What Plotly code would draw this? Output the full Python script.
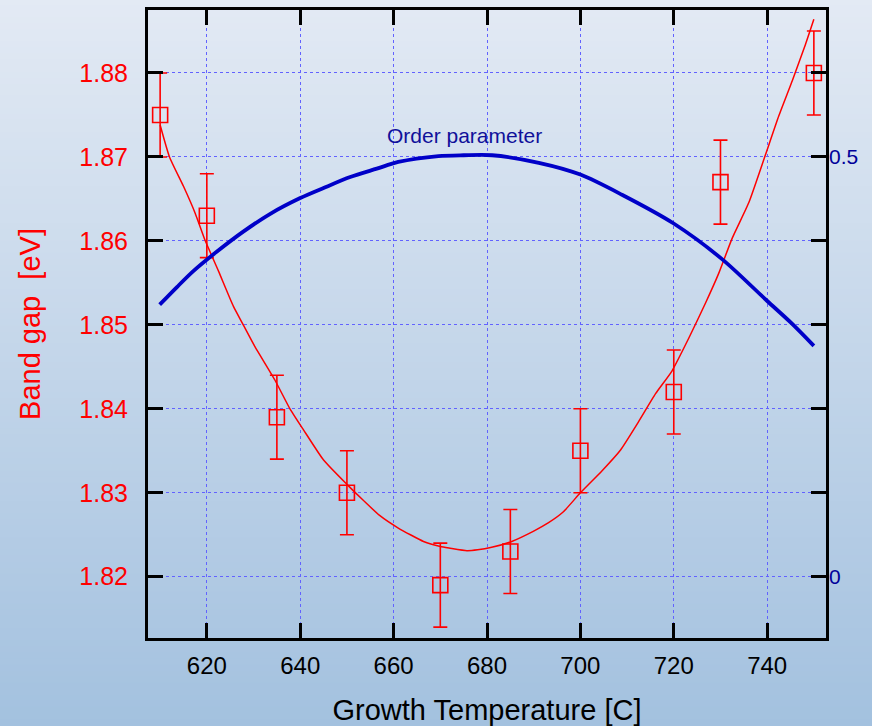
import plotly.graph_objects as go

# ---- data ----
temp = [610, 620, 635, 650, 670, 685, 700, 720, 730, 750]
gap = [1.875, 1.863, 1.839, 1.830, 1.819, 1.823, 1.835, 1.842, 1.867, 1.880]
gap_err = [0.005, 0.005, 0.005, 0.005, 0.005, 0.005, 0.005, 0.005, 0.005, 0.005]

fit_t = [610.0, 612.0, 615.0, 617.5, 619.6, 622.5, 625.7, 627.8, 630.3, 634.6,
         637.8, 640.7, 645.0, 650.0, 653.5, 657.0, 661.0, 666.4, 670.0, 672.1,
         675.7, 678.0, 681.0, 685.3, 689.9, 693.1, 696.3, 700.0, 704.6, 708.6,
         712.5, 716.1, 719.6, 723.2, 726.8, 729.6, 732.5, 736.1, 739.6, 742.5,
         745.4, 748.2, 750.0]
fit_gap = [1.8738, 1.8700, 1.8665, 1.8633, 1.8601, 1.8564, 1.8522, 1.8500, 1.8474, 1.8434,
           1.8400, 1.8375, 1.8339, 1.8310, 1.8291, 1.8273, 1.8258, 1.8242, 1.8236, 1.8234,
           1.8231, 1.8232, 1.8235, 1.8242, 1.8254, 1.8264, 1.8277, 1.8300, 1.8326, 1.8351,
           1.8385, 1.8418, 1.8445, 1.8484, 1.8526, 1.8561, 1.8603, 1.8646, 1.8702, 1.8749,
           1.8791, 1.8834, 1.8864]

order_t = [609.9, 613.6, 617.1, 622.1, 627.8, 633.5, 640.0, 645.0, 650.7, 656.4,
           661.0, 669.6, 675.0, 681.1, 691.1, 700.0, 708.9, 719.9, 730.4, 739.9,
           745.2, 750.0]
order_val = [0.324, 0.345, 0.364, 0.387, 0.411, 0.432, 0.451, 0.463, 0.476, 0.486,
             0.494, 0.501, 0.502, 0.502, 0.493, 0.479, 0.455, 0.421, 0.378, 0.329,
             0.302, 0.275]

x_ticks = [620, 640, 660, 680, 700, 720, 740]
y_ticks = [1.82, 1.83, 1.84, 1.85, 1.86, 1.87, 1.88]
y2_ticks = [0, 0.5]

W, H = 872, 726
ML, MR, MT, MB = 148, 46, 10, 88
FONT = "Liberation Sans, Arial, sans-serif"

fig = go.Figure()

fig.add_trace(go.Scatter(
    x=order_t, y=order_val, mode="lines", yaxis="y2",
    line=dict(color="#0000c8", width=3.8, shape="spline", smoothing=0.8),
    showlegend=False))

fig.add_trace(go.Scatter(
    x=fit_t, y=fit_gap, mode="lines",
    line=dict(color="#ff0000", width=1.5, shape="spline", smoothing=0.5),
    showlegend=False))

fig.add_trace(go.Scatter(
    x=temp, y=gap, mode="markers",
    marker=dict(symbol="square-open", size=15, color="#ff0000", line=dict(width=1.6)),
    error_y=dict(type="data", array=gap_err, visible=True, color="#ff0000",
                 thickness=1.6, width=7),
    showlegend=False))

# background gradient (top light to bottom darker blue)
pw = W - ML - MR
ph = H - MT - MB
top = (0xe3, 0xea, 0xf4)
bot = (0xa3, 0xc1, 0xdf)
n = 120
shapes = []
y0p = -MB / ph
y1p = 1 + MT / ph
for i in range(n):
    f = (i + 0.5) / n
    c = tuple(round(top[k] + (bot[k] - top[k]) * f) for k in range(3))
    ya = y1p - (y1p - y0p) * i / n
    yb = y1p - (y1p - y0p) * (i + 1) / n
    if i == n - 1:
        yb -= 0.02
    if i == 0:
        ya += 0.02
    shapes.append(dict(type="rect", xref="paper", yref="paper",
                       x0=-ML / pw - 0.01, x1=1 + MR / pw + 0.01,
                       y0=yb - 0.002, y1=ya + 0.002,
                       fillcolor="rgb(%d,%d,%d)" % c, line=dict(width=0), layer="below"))

fig.add_annotation(x=675.1, y=0.525, xref="x", yref="y2", text="Order parameter",
                   showarrow=False, font=dict(family=FONT, size=21, color="#10109a"))

fig.update_layout(
    width=W, height=H,
    margin=dict(l=ML, r=MR, t=MT, b=MB),
    paper_bgcolor="#b8cde6", plot_bgcolor="rgba(0,0,0,0)",
    shapes=shapes,
    font=dict(family=FONT),
    xaxis=dict(range=[607.4, 752.6], tickvals=x_ticks, ticks="inside", ticklen=15,
               tickwidth=3, tickcolor="black", showline=True, linecolor="black",
               linewidth=3, mirror="ticks", showgrid=True, gridcolor="#6262ff",
               griddash="dot", gridwidth=1.3, zeroline=False, automargin=False,
               tickfont=dict(size=24, color="black", family=FONT),
               ticklabelstandoff=4,
               title=dict(text="Growth Temperature [C]", standoff=23,
                          font=dict(size=29, color="black", family=FONT))),
    yaxis=dict(range=[1.8127, 1.8875], tickvals=y_ticks,
               ticktext=["%.2f" % v for v in y_ticks],
               ticks="inside", ticklen=15, tickwidth=3,
               tickcolor="black", showline=True, linecolor="black", linewidth=3,
               mirror="ticks", showgrid=True, gridcolor="#6262ff", griddash="dot",
               gridwidth=1.3, zeroline=False, automargin=False,
               tickfont=dict(size=25, color="#ff0000", family=FONT),
               ticklabelstandoff=12,
               title=dict(text="Band gap\u00a0\u00a0[eV]", standoff=31,
                          font=dict(size=29, color="#ff0000", family=FONT))),
    yaxis2=dict(range=[-0.073, 0.675], overlaying="y", side="right",
                tickvals=y2_ticks, ticktext=["0", "0.5"], ticks="", showgrid=False,
                zeroline=False, showline=False, automargin=False,
                tickfont=dict(size=21, color="#000099", family=FONT),
                ticklabelstandoff=2),
)

fig.write_html("out.html", config={"displayModeBar": False},
               post_script="document.body.style.margin='0';document.body.style.padding='0';")
